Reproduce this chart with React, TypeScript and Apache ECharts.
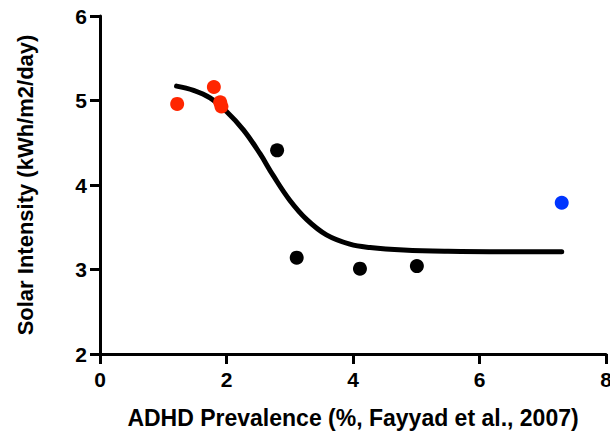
import React, { useEffect, useRef } from "react";
import * as echarts from "echarts";

const xTicks = [0, 2, 4, 6, 8];
const yTicks = [2, 3, 4, 5, 6];

// Red group
const redPoints: [number, number][] = [
  [1.22, 4.96],
  [1.8, 5.16],
  [1.9, 4.98],
  [1.92, 4.93],
];
// Black group
const blackPoints: [number, number][] = [
  [2.8, 4.41],
  [3.11, 3.14],
  [4.11, 3.01],
  [5.01, 3.04],
];
// Blue point
const bluePoints: [number, number][] = [[7.3, 3.79]];

// Fitted curve
const curvePoints: [number, number][] = [
  [1.21, 5.17],
  [1.48, 5.12],
  [1.74, 5.03],
  [2.0, 4.87],
  [2.27, 4.65],
  [2.53, 4.37],
  [2.74, 4.11],
  [3.0, 3.82],
  [3.27, 3.59],
  [3.58, 3.41],
  [3.95, 3.3],
  [4.27, 3.26],
  [4.8, 3.23],
  [5.5, 3.215],
  [6.4, 3.21],
  [7.3, 3.21],
];

const FONT = "Liberation Sans, Arial, sans-serif";

export default function App() {
  const ref = useRef<HTMLDivElement>(null);
  useEffect(() => {
    if (!ref.current) return;
    const chart = echarts.init(ref.current, undefined, { renderer: "svg" });
    chart.setOption({
      animation: false,
      backgroundColor: "#ffffff",
      grid: {
        left: 100,
        right: 4,
        top: 16,
        bottom: 78,
        containLabel: false,
        outerBoundsMode: "none",
      },
      xAxis: {
        type: "value",
        min: xTicks[0],
        max: xTicks[xTicks.length - 1],
        interval: 2,
        name: "ADHD Prevalence (%, Fayyad et al., 2007)",
        nameLocation: "middle",
        nameGap: 52,
        nameTextStyle: { fontFamily: FONT, fontWeight: "bold", fontSize: 23, color: "#000" },
        axisLine: { show: true, onZero: false, lineStyle: { color: "#000", width: 3 } },
        axisTick: { show: true, length: 10, lineStyle: { color: "#000", width: 3 } },
        axisLabel: { margin: 15, fontFamily: FONT, fontWeight: "bold", fontSize: 21, color: "#000" },
        splitLine: { show: false },
      },
      yAxis: {
        type: "value",
        min: yTicks[0],
        max: yTicks[yTicks.length - 1],
        interval: 1,
        name: "Solar Intensity (kWh/m2/day)",
        nameLocation: "middle",
        nameGap: 64,
        nameRotate: 90,
        nameTextStyle: { fontFamily: FONT, fontWeight: "bold", fontSize: 22, color: "#000" },
        axisLine: { show: true, onZero: false, lineStyle: { color: "#000", width: 3 } },
        axisTick: { show: true, length: 10, lineStyle: { color: "#000", width: 3 } },
        axisLabel: { margin: 13, fontFamily: FONT, fontWeight: "bold", fontSize: 21, color: "#000" },
        splitLine: { show: false },
      },
      series: [
        {
          type: "line",
          data: curvePoints,
          smooth: 0.4,
          showSymbol: false,
          lineStyle: { color: "#000", width: 5, cap: "round" },
          z: 1,
        },
        {
          type: "scatter",
          data: redPoints,
          symbol: "circle",
          symbolSize: 14,
          itemStyle: { color: "#FF2600", opacity: 1 },
          z: 2,
        },
        {
          type: "scatter",
          data: blackPoints,
          symbol: "circle",
          symbolSize: 14,
          itemStyle: { color: "#000000", opacity: 1 },
          z: 2,
        },
        {
          type: "scatter",
          data: bluePoints,
          symbol: "circle",
          symbolSize: 14,
          itemStyle: { color: "#0035FF", opacity: 1 },
          z: 2,
        },
      ],
    });
    return () => chart.dispose();
  }, []);
  return <div ref={ref} style={{ width: 610, height: 432, position: "absolute", left: 0, top: 0 }} />;
}
